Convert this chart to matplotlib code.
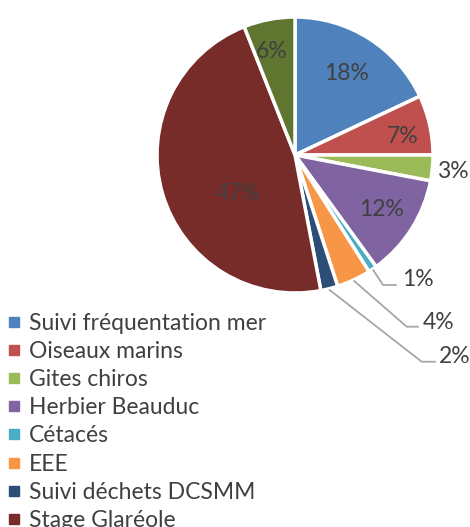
import numpy as np
import matplotlib.pyplot as plt
from matplotlib.lines import Line2D

plt.rcParams['font.family'] = ['Lato', 'DejaVu Sans']

labels = ['Suivi fréquentation mer', 'Oiseaux marins', 'Gites chiros', 'Herbier Beauduc',
          'Cétacés', 'EEE', 'Suivi déchets DCSMM', 'Stage Glaréole', 'Autre']
values = [18, 7, 3, 12, 1, 4, 2, 47, 6]
colors = ['#4F81BD', '#C0504D', '#9BBB59', '#8064A2', '#4BACC6', '#F79646',
          '#2C4D75', '#772C2A', '#5F7530']

TXT = '#404040'
FS = 16.5

W, H = 470, 527
fig = plt.figure(figsize=(W / 100, H / 100), dpi=100)
cx, cy, r = 295, 155, 138
ax = fig.add_axes([(cx - r) / W, 1 - (cy + r) / H, 2 * r / W, 2 * r / H])

wedges, _ = ax.pie(values, colors=colors, startangle=90, counterclock=False,
                   wedgeprops=dict(edgecolor='white', linewidth=2.5))
ax.set_xlim(-1, 1)
ax.set_ylim(-1, 1)
ax.set_aspect('equal')
ax.axis('off')

total = sum(values)
pct = [f'{v / total * 100:.0f}%' for v in values]

# inside labels: radius fraction and angle tweak per slice
inside = {0: (0.70, 0), 1: (0.79, -3), 3: (0.74, 0), 7: (0.50, 18), 8: (0.77, 2)}
for i, w in enumerate(wedges):
    mid = np.deg2rad((w.theta1 + w.theta2) / 2)
    if i in inside:
        d, da = inside[i]
        a = mid + np.deg2rad(da)
        ax.text(d * np.cos(a), d * np.sin(a), pct[i], ha='center', va='center',
                fontsize=FS, color=TXT)

# outside labels with leader lines: (corner, end of line, text pos)
outside = {
    2: (None, None, (1.03, -0.12)),
    4: ((0.638, -0.942), (0.73, -0.942), (0.775, -0.905)),
    5: ((0.809, -1.244), (0.891, -1.244), (0.928, -1.213)),
    6: ((0.918, -1.498), (1.014, -1.498), (1.045, -1.462)),
}
for i, (corner, end, tp) in outside.items():
    w = wedges[i]
    mid = np.deg2rad((w.theta1 + w.theta2) / 2)
    if corner is not None:
        sx, sy = 1.01 * np.cos(mid), 1.01 * np.sin(mid)
        ax.plot([sx, corner[0], end[0]], [sy, corner[1], end[1]], color='#A6A6A6',
                lw=1.3, clip_on=False)
    ax.text(tp[0], tp[1], pct[i], ha='left', va='center', fontsize=FS, color=TXT)

handles = [Line2D([], [], marker='s', ls='', color=c, markersize=7.5) for c in colors[:8]]
fig.legend(handles, labels[:8], loc='upper left', bbox_to_anchor=(8 / W, 1 - 313 / H),
           frameon=False, fontsize=FS, labelcolor=TXT, handlelength=0.5,
           handletextpad=0.4, labelspacing=0.31, borderpad=0, borderaxespad=0)

fig.savefig('out.png', dpi=100)
